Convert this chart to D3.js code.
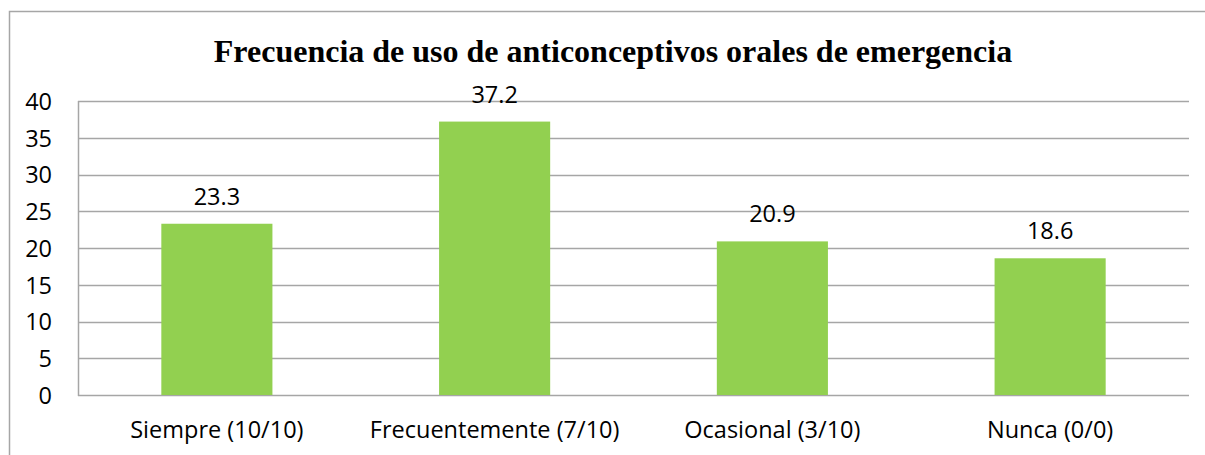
<!DOCTYPE html>
<html>
<head>
<meta charset="utf-8">
<script src="https://cdn.jsdelivr.net/npm/d3@7"></script>
<style>
  body { margin: 0; background: #fff; }
  svg text { fill: #000; }
</style>
</head>
<body>
<svg id="chart" width="1205" height="455"></svg>
<script>
// datos
var categorias = ["Siempre (10/10)", "Frecuentemente (7/10)", "Ocasional (3/10)", "Nunca (0/0)"]
var valores = [23.3, 37.2, 20.9, 18.6]
var etiquetas = ["23.3", "37.2", "20.9", "18.6"]
var ticksY = [0, 5, 10, 15, 20, 25, 30, 35, 40]
var titulo = "Frecuencia de uso de anticonceptivos orales de emergencia"

var svg = d3.select("#chart")
var GRIS = "#a6a6a6"
var VERDE = "#92d050"
var FUENTE = "'Open Sans', 'Noto Sans', sans-serif"
var TAM = "23.5px"

var m = {left: 78, right: 1189, top: 101, bottom: 395}

// marco exterior
svg.append("path")
    .attr("d", "M9.5,455 V11.5 H1205")
    .attr("fill", "none")
    .attr("stroke", GRIS)
    .attr("stroke-width", 1.5)

svg.append("text")
    .attr("x", 613).attr("y", 62)
    .attr("text-anchor", "middle")
    .style("font-family", "'Liberation Serif', 'Times New Roman', serif")
    .style("font-weight", "bold")
    .style("font-size", "32px")
    .text(titulo)

var x = d3.scaleBand().domain(categorias).range([m.left, m.right])
    .paddingInner(0.6).paddingOuter(0.3)
var y = d3.scaleLinear().domain([0, 40]).range([m.bottom, m.top])

// lineas de cuadricula
svg.append("g").selectAll("line").data(ticksY).join("line")
    .attr("x1", m.left).attr("x2", m.right)
    .attr("y1", d => Math.round(y(d)) + 0.5).attr("y2", d => Math.round(y(d)) + 0.5)
    .attr("stroke", GRIS).attr("stroke-width", 1.5)

svg.append("line")
    .attr("x1", m.left + 0.5).attr("x2", m.left + 0.5)
    .attr("y1", m.top).attr("y2", m.bottom + 1)
    .attr("stroke", GRIS).attr("stroke-width", 1.5)

// eje y
var ejeY = svg.append("g")
    .attr("transform", "translate(" + (m.left - 26) + ",0)")
    .call(d3.axisLeft(y).tickValues(ticksY).tickSize(0).tickPadding(0))
ejeY.select(".domain").remove()
ejeY.selectAll("text")
    .style("font-family", FUENTE).style("font-size", TAM).attr("dy", "0.36em")

// barras
svg.append("g").selectAll("rect").data(valores).join("rect")
    .attr("x", (d, i) => x(categorias[i]))
    .attr("width", x.bandwidth())
    .attr("y", d => y(d))
    .attr("height", d => y(0) - y(d))
    .attr("fill", VERDE)

// etiquetas de valor
svg.append("g").selectAll("text").data(valores).join("text")
    .attr("x", (d, i) => x(categorias[i]) + x.bandwidth() / 2)
    .attr("y", d => y(d) - 19)
    .attr("text-anchor", "middle")
    .style("font-family", FUENTE).style("font-size", TAM)
    .text((d, i) => etiquetas[i])

// eje x
var ejeX = svg.append("g")
    .attr("transform", "translate(0," + m.bottom + ")")
    .call(d3.axisBottom(x).tickSize(0).tickPadding(0))
ejeX.select(".domain").remove()
ejeX.selectAll("text")
    .attr("dy", null).attr("y", 43)
    .style("font-family", FUENTE).style("font-size", TAM)
</script>
</body>
</html>
